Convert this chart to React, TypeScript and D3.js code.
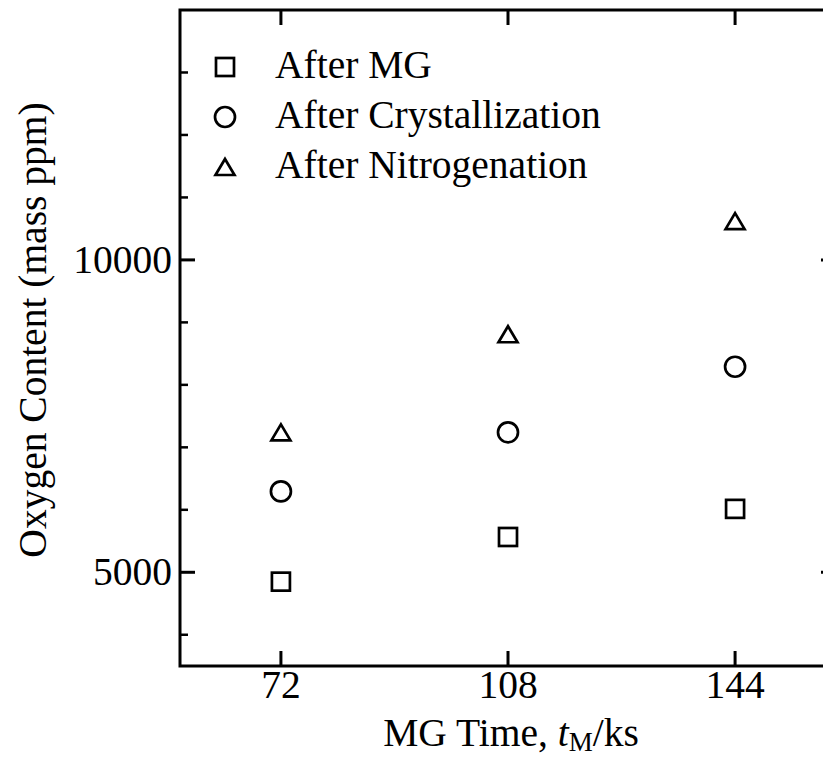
import React from "react";
import * as d3 from "d3";

const times = [72, 108, 144];
const afterMG = [4850, 5565, 6015];
const afterCryst = [6295, 7240, 8290];
const afterNitro = [7240, 8810, 10620];
const yMajorTicks = [5000, 10000];
const yMinorTicks = [4000, 6000, 7000, 8000, 9000, 11000, 12000, 13000];
const legendLabels = ["After MG", "After Crystallization", "After Nitrogenation"];

const W = 823;
const H = 758;
const FONT = "'Liberation Serif', 'Times New Roman', Times, serif";
const FS = 39.5;

const x = d3.scaleLinear().domain([56, 160]).range([180, 836]);
const y = d3.scaleLinear().domain([3500, 14000]).range([666, 10]);

const SW = 2.7;

function Marker({ kind, cx, cy }: { kind: string; cx: number; cy: number }) {
  if (kind === "square") {
    const s = 18;
    return <rect x={cx - s / 2} y={cy - s / 2} width={s} height={s} fill="none" stroke="#000" strokeWidth={SW} />;
  }
  if (kind === "circle") {
    return <circle cx={cx} cy={cy} r={10} fill="none" stroke="#000" strokeWidth={SW} />;
  }
  const w = 19, h = 16;
  const p = d3.path();
  p.moveTo(cx, cy - h / 2);
  p.lineTo(cx + w / 2, cy + h / 2);
  p.lineTo(cx - w / 2, cy + h / 2);
  p.closePath();
  return <path d={p.toString()} fill="none" stroke="#000" strokeWidth={SW} strokeLinejoin="miter" />;
}

const series = [
  { kind: "square", values: afterMG },
  { kind: "circle", values: afterCryst },
  { kind: "triangle", values: afterNitro },
];

export default function App() {
  const [x0, x1] = x.range();
  const [yb, yt] = y.range();
  const major = 15;
  const minor = 8;
  return (
    <svg width={W} height={H} style={{ position: "absolute", left: 0, top: 0, background: "#fff" }} fontFamily={FONT}>
      <rect x={0} y={0} width={W} height={H} fill="#fff" />
      {/* frame */}
      <rect x={x0} y={yt} width={x1 - x0} height={yb - yt} fill="none" stroke="#000" strokeWidth={3} />
      {/* x ticks bottom & top */}
      {times.map((t) => (
        <g key={"xt" + t}>
          <line x1={x(t)} x2={x(t)} y1={yb} y2={yb - major} stroke="#000" strokeWidth={3} />
          <line x1={x(t)} x2={x(t)} y1={yt} y2={yt + major} stroke="#000" strokeWidth={3} />
          <text x={x(t)} y={698} fontSize={FS} textAnchor="middle">{t}</text>
        </g>
      ))}
      {/* y ticks */}
      {yMajorTicks.map((v) => (
        <g key={"ym" + v}>
          <line x1={x0} x2={x0 + major} y1={y(v)} y2={y(v)} stroke="#000" strokeWidth={3} />
          <line x1={x1} x2={x1 - major} y1={y(v)} y2={y(v)} stroke="#000" strokeWidth={3} />
          <text x={172} y={y(v) + 13} fontSize={FS} textAnchor="end">{v}</text>
        </g>
      ))}
      {yMinorTicks.map((v) => (
        <g key={"yn" + v}>
          <line x1={x0} x2={x0 + minor} y1={y(v)} y2={y(v)} stroke="#000" strokeWidth={2.5} />
          <line x1={x1} x2={x1 - minor} y1={y(v)} y2={y(v)} stroke="#000" strokeWidth={2.5} />
        </g>
      ))}
      {/* data */}
      {series.map((s) =>
        s.values.map((v, i) => <Marker key={s.kind + i} kind={s.kind} cx={x(times[i])} cy={y(v)} />)
      )}
      {/* legend */}
      {legendLabels.map((lab, i) => (
        <g key={lab}>
          <Marker kind={series[i].kind} cx={225} cy={67 + i * 50} />
          <text x={275} y={78 + i * 50} fontSize={FS}>{lab}</text>
        </g>
      ))}
      {/* axis titles */}
      <text x={511} y={746} fontSize={FS} textAnchor="middle">
        MG Time, <tspan fontStyle="italic">t</tspan>
        <tspan fontSize={27} dy={5}>M</tspan>
        <tspan dy={-5}>/ks</tspan>
      </text>
      <text transform={`translate(46, ${330}) rotate(-90)`} fontSize={FS} textAnchor="middle">
        Oxygen Content (mass ppm)
      </text>
    </svg>
  );
}
